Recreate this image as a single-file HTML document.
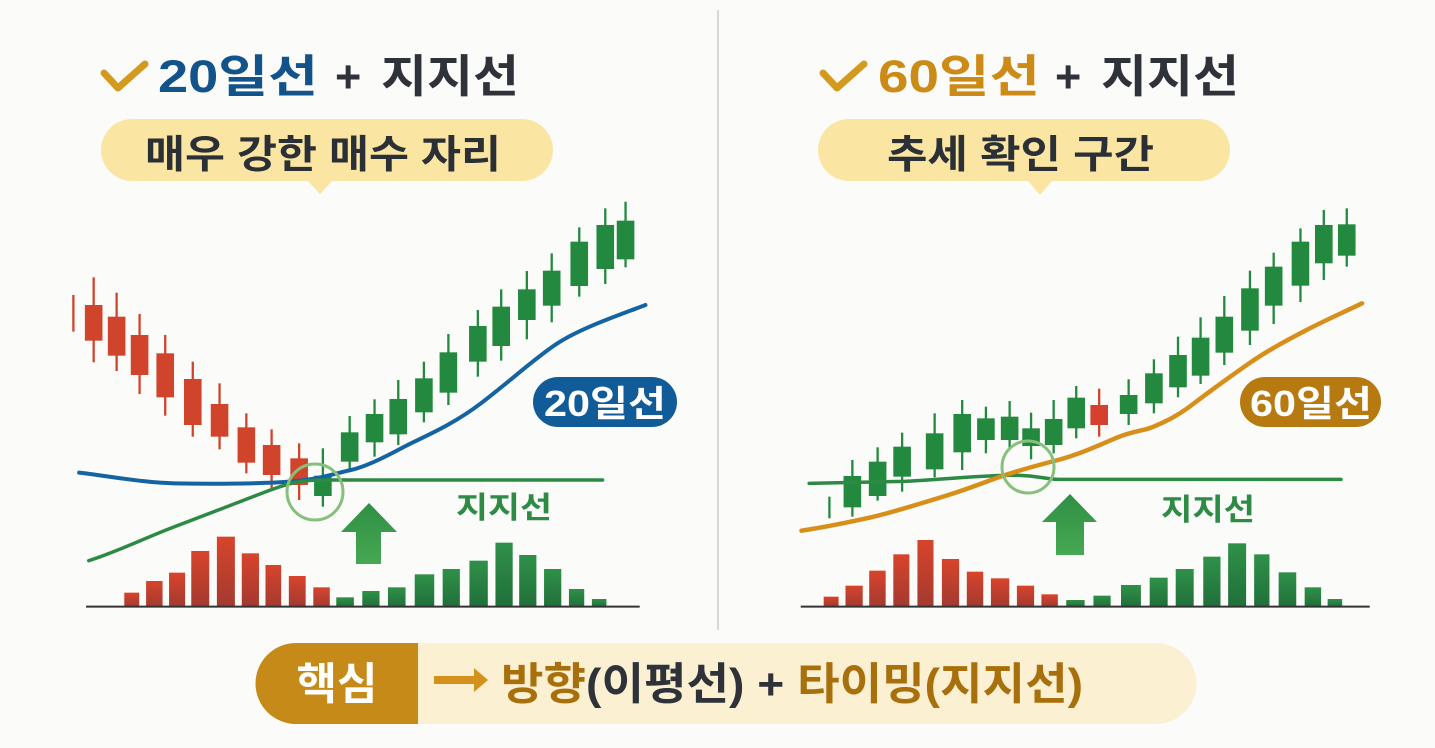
<!DOCTYPE html>
<html><head><meta charset="utf-8"><style>
html,body{margin:0;padding:0;background:#fbfbfa;}
svg{display:block}
text{font-family:"Liberation Sans","Noto Sans CJK KR",sans-serif;font-weight:bold}
</style></head><body>
<svg width="1435" height="748" viewBox="0 0 1435 748" xmlns="http://www.w3.org/2000/svg">
<defs>
<linearGradient id="rv" x1="0" y1="0" x2="0" y2="1"><stop offset="0" stop-color="#d8442c"/><stop offset="1" stop-color="#a33a30"/></linearGradient>
<linearGradient id="gv" x1="0" y1="0" x2="0" y2="1"><stop offset="0" stop-color="#2f9149"/><stop offset="1" stop-color="#216f3a"/></linearGradient>
<linearGradient id="ar" x1="0" y1="0" x2="0" y2="1"><stop offset="0" stop-color="#2f8f45"/><stop offset="1" stop-color="#47a852"/></linearGradient>
</defs>
<rect width="1435" height="748" fill="#fbfbfa"/>
<line x1="718" y1="10" x2="718" y2="630" stroke="#d8d8d8" stroke-width="2"/>

<polyline points="104,73 118,88 145,64" fill="none" stroke="#d49a1e" stroke-width="7" stroke-linecap="round" stroke-linejoin="round"/>
<text x="158" y="92" font-size="45" fill="#13538b" textLength="160" lengthAdjust="spacingAndGlyphs">20일선</text>
<text x="335" y="92" font-size="45" fill="#2f3339">+</text>
<text x="381" y="92" font-size="45" fill="#2f3339" textLength="138" lengthAdjust="spacingAndGlyphs">지지선</text>
<path d="M132,119 H522 A31,31 0 0 1 522,181 H332 L320,194 L308,181 H132 A31,31 0 0 1 132,119 Z" fill="#fbe5a2"/>
<text x="145" y="168" font-size="39" fill="#2b2f36" textLength="356" lengthAdjust="spacingAndGlyphs">매우 강한 매수 자리</text>

<polyline points="823,73 837,88 864,64" fill="none" stroke="#d49a1e" stroke-width="7" stroke-linecap="round" stroke-linejoin="round"/>
<text x="878" y="92" font-size="45" fill="#cc8a16" textLength="162" lengthAdjust="spacingAndGlyphs">60일선</text>
<text x="1055" y="92" font-size="45" fill="#2f3339">+</text>
<text x="1101" y="92" font-size="45" fill="#2f3339" textLength="138" lengthAdjust="spacingAndGlyphs">지지선</text>
<path d="M849,119 H1199 A31,31 0 0 1 1199,181 H1052 L1040,195 L1028,181 H849 A31,31 0 0 1 849,119 Z" fill="#fbe5a2"/>
<text x="887" y="168" font-size="39" fill="#2b2f36" textLength="267" lengthAdjust="spacingAndGlyphs">추세 확인 구간</text>

<g transform="translate(60,190) scale(0.38265,0.33333)">
<g fill="#d0442b">
<rect x="32" y="315" width="6" height="110"/>
<rect x="85" y="262" width="6" height="255"/><rect x="145" y="308" width="6" height="235"/><rect x="205" y="372" width="6" height="240"/><rect x="272" y="435" width="6" height="242"/><rect x="344" y="515" width="6" height="225"/><rect x="414" y="580" width="6" height="198"/><rect x="484" y="670" width="6" height="180"/><rect x="550" y="718" width="6" height="182"/><rect x="622" y="760" width="6" height="170"/>
<rect x="65" y="345" width="46" height="107"/><rect x="125" y="380" width="46" height="117"/><rect x="185" y="435" width="46" height="120"/><rect x="252" y="490" width="46" height="132"/><rect x="324" y="567" width="46" height="138"/><rect x="394" y="642" width="46" height="98"/><rect x="464" y="712" width="46" height="106"/><rect x="530" y="765" width="46" height="90"/><rect x="602" y="805" width="46" height="80"/>
</g>
<g fill="#23893f">
<rect x="684" y="775" width="6" height="175"/><rect x="754" y="678" width="6" height="160"/><rect x="819" y="628" width="6" height="172"/><rect x="881" y="570" width="6" height="195"/><rect x="948" y="515" width="6" height="182"/><rect x="1012" y="432" width="6" height="213"/><rect x="1089" y="360" width="6" height="200"/><rect x="1150" y="298" width="6" height="214"/><rect x="1217" y="243" width="6" height="205"/><rect x="1282" y="190" width="6" height="207"/><rect x="1354" y="112" width="6" height="208"/><rect x="1422" y="55" width="6" height="227"/><rect x="1475" y="35" width="6" height="197"/>
<rect x="664" y="857" width="46" height="61"/><rect x="734" y="727" width="46" height="88"/><rect x="799" y="672" width="46" height="85"/><rect x="861" y="627" width="46" height="106"/><rect x="928" y="565" width="46" height="102"/><rect x="992" y="487" width="46" height="121"/><rect x="1069" y="408" width="46" height="107"/><rect x="1130" y="350" width="46" height="118"/><rect x="1197" y="298" width="46" height="92"/><rect x="1262" y="242" width="46" height="105"/><rect x="1334" y="155" width="46" height="133"/><rect x="1402" y="105" width="46" height="132"/><rect x="1455" y="92" width="46" height="116"/>
</g>
<path d="M50,848 C150,862 220,878 300,880 S520,882 600,875 S720,850 760,840 S860,795 900,770 S1020,710 1100,640 S1240,505 1300,460 S1450,380 1530,345" fill="none" stroke="#1464a3" stroke-width="4" stroke-linecap="round" vector-effect="non-scaling-stroke"/>
<path d="M75,1112 C150,1085 230,1040 300,1010 S480,930 550,900 S650,870 700,870 L1418,870" fill="none" stroke="#2c8a45" stroke-width="3.5" stroke-linecap="round" vector-effect="non-scaling-stroke"/>
<g fill="url(#rv)">
<rect x="168" y="1208" width="39" height="42"/><rect x="225" y="1173" width="43" height="77"/><rect x="285" y="1148" width="42" height="102"/><rect x="343" y="1083" width="47" height="167"/><rect x="410" y="1040" width="47" height="210"/><rect x="475" y="1090" width="45" height="160"/><rect x="537" y="1125" width="41" height="125"/><rect x="598" y="1158" width="44" height="92"/><rect x="662" y="1192" width="43" height="58"/>
</g>
<g fill="url(#gv)">
<rect x="722" y="1222" width="46" height="28"/><rect x="790" y="1203" width="45" height="47"/><rect x="857" y="1192" width="46" height="58"/><rect x="927" y="1153" width="51" height="97"/><rect x="1000" y="1137" width="45" height="113"/><rect x="1070" y="1112" width="48" height="138"/><rect x="1138" y="1058" width="45" height="192"/><rect x="1200" y="1095" width="45" height="155"/><rect x="1265" y="1137" width="45" height="113"/><rect x="1330" y="1197" width="40" height="53"/><rect x="1390" y="1227" width="38" height="23"/>
</g>
<line x1="68" y1="1250" x2="1515" y2="1250" stroke="#333" stroke-width="2" vector-effect="non-scaling-stroke"/>
</g>
<circle cx="315" cy="492" r="28" fill="none" stroke="#86c07a" stroke-width="3"/>
<path d="M369,503 L397,532 L381,532 L381,564 L356,564 L356,532 L341,532 Z" fill="url(#ar)"/>
<text x="456" y="518" font-size="30" fill="#2e8b45" textLength="96" lengthAdjust="spacingAndGlyphs">지지선</text>
<rect x="533" y="377" width="144" height="50" rx="25" fill="#115c98"/>
<text x="544" y="416" font-size="36" fill="#fff" textLength="122" lengthAdjust="spacingAndGlyphs">20일선</text>

<g transform="translate(790,190) scale(0.38265,0.33333)">
<g fill="#23893f">
<rect x="100" y="920" width="6" height="65"/>
<rect x="160" y="810" width="6" height="170"/><rect x="226" y="772" width="6" height="160"/><rect x="290" y="728" width="6" height="177"/><rect x="375" y="670" width="6" height="192"/><rect x="447" y="630" width="6" height="210"/><rect x="509" y="650" width="6" height="140"/><rect x="571" y="633" width="6" height="145"/><rect x="627" y="668" width="6" height="140"/><rect x="686" y="630" width="6" height="160"/><rect x="745" y="588" width="6" height="157"/><rect x="882" y="568" width="6" height="137"/><rect x="948" y="508" width="6" height="162"/><rect x="1011" y="440" width="6" height="182"/><rect x="1070" y="382" width="6" height="200"/><rect x="1132" y="318" width="6" height="207"/><rect x="1199" y="242" width="6" height="223"/><rect x="1261" y="188" width="6" height="214"/><rect x="1331" y="115" width="6" height="221"/><rect x="1392" y="60" width="6" height="210"/><rect x="1452" y="55" width="6" height="175"/>
<rect x="140" y="858" width="46" height="94"/><rect x="206" y="815" width="46" height="103"/><rect x="270" y="770" width="46" height="90"/><rect x="355" y="730" width="46" height="108"/><rect x="427" y="672" width="46" height="115"/><rect x="489" y="685" width="46" height="65"/><rect x="551" y="680" width="46" height="70"/><rect x="607" y="715" width="46" height="53"/><rect x="666" y="687" width="46" height="78"/><rect x="725" y="623" width="46" height="92"/><rect x="862" y="615" width="46" height="57"/><rect x="928" y="550" width="46" height="90"/><rect x="991" y="495" width="46" height="97"/><rect x="1050" y="443" width="46" height="114"/><rect x="1112" y="380" width="46" height="108"/><rect x="1179" y="295" width="46" height="127"/><rect x="1241" y="230" width="46" height="117"/><rect x="1311" y="155" width="46" height="132"/><rect x="1372" y="105" width="46" height="115"/><rect x="1432" y="103" width="46" height="94"/>
</g>
<g fill="#d6402e"><rect x="805" y="596" width="6" height="144"/><rect x="785" y="645" width="46" height="60"/></g>
<path d="M50,880 C150,878 250,876 300,874 S480,858 560,856 S660,866 700,868 L1440,868" fill="none" stroke="#2c8a45" stroke-width="3.5" stroke-linecap="round" vector-effect="non-scaling-stroke"/>
<path d="M30,1022 C100,1010 160,995 200,985 S330,945 400,920 S500,880 550,860 S650,825 700,810 S800,770 850,745 S920,725 950,710 S1010,680 1050,645 S1150,560 1200,520 S1300,450 1350,420 S1450,365 1495,340" fill="none" stroke="#d88f1a" stroke-width="4.5" stroke-linecap="round" vector-effect="non-scaling-stroke"/>
<g fill="url(#rv)">
<rect x="88" y="1220" width="39" height="30"/><rect x="145" y="1187" width="45" height="63"/><rect x="207" y="1142" width="43" height="108"/><rect x="270" y="1093" width="42" height="157"/><rect x="333" y="1050" width="42" height="200"/><rect x="397" y="1107" width="45" height="143"/><rect x="462" y="1145" width="43" height="105"/><rect x="525" y="1165" width="48" height="85"/><rect x="593" y="1187" width="45" height="63"/><rect x="657" y="1213" width="43" height="37"/>
</g>
<g fill="url(#gv)">
<rect x="722" y="1230" width="48" height="20"/><rect x="793" y="1217" width="45" height="33"/><rect x="865" y="1185" width="52" height="65"/><rect x="940" y="1163" width="47" height="87"/><rect x="1008" y="1137" width="47" height="113"/><rect x="1080" y="1100" width="45" height="150"/><rect x="1145" y="1060" width="47" height="190"/><rect x="1213" y="1093" width="40" height="157"/><rect x="1277" y="1147" width="46" height="103"/><rect x="1345" y="1192" width="43" height="58"/><rect x="1405" y="1227" width="38" height="23"/>
</g>
<line x1="28" y1="1250" x2="1515" y2="1250" stroke="#333" stroke-width="2" vector-effect="non-scaling-stroke"/>
</g>
<ellipse cx="1028" cy="467" rx="26" ry="26" fill="none" stroke="#86c07a" stroke-width="3"/>
<path d="M1070,494 L1097,522 L1084,522 L1084,555 L1056,555 L1056,522 L1042,522 Z" fill="url(#ar)"/>
<text x="1161" y="520" font-size="30" fill="#2e8b45" textLength="94" lengthAdjust="spacingAndGlyphs">지지선</text>
<rect x="1240" y="377" width="141" height="50" rx="25" fill="#b77a10"/>
<text x="1250" y="416" font-size="36" fill="#fff" textLength="122" lengthAdjust="spacingAndGlyphs">60일선</text>

<path d="M296,643 H1156 A40,40 0 0 1 1156,724 H296 A40,40 0 0 1 296,643 Z" fill="#fbf0d2"/>
<path d="M296,643 H418 V724 H296 A40,40 0 0 1 296,643 Z" fill="#c68a18"/>
<text x="337" y="699" font-size="44" fill="#fff" text-anchor="middle">핵심</text>
<path d="M434,676 H474 V668 L488,680 L474,692 V684 H434 Z" fill="#d4921c"/>
<text x="501" y="699" font-size="44" textLength="582" lengthAdjust="spacingAndGlyphs"><tspan fill="#a8700c">방향</tspan><tspan fill="#2f3339">(이평선) + </tspan><tspan fill="#a8700c">타이밍(지지선)</tspan></text>
</svg>
</body></html>
